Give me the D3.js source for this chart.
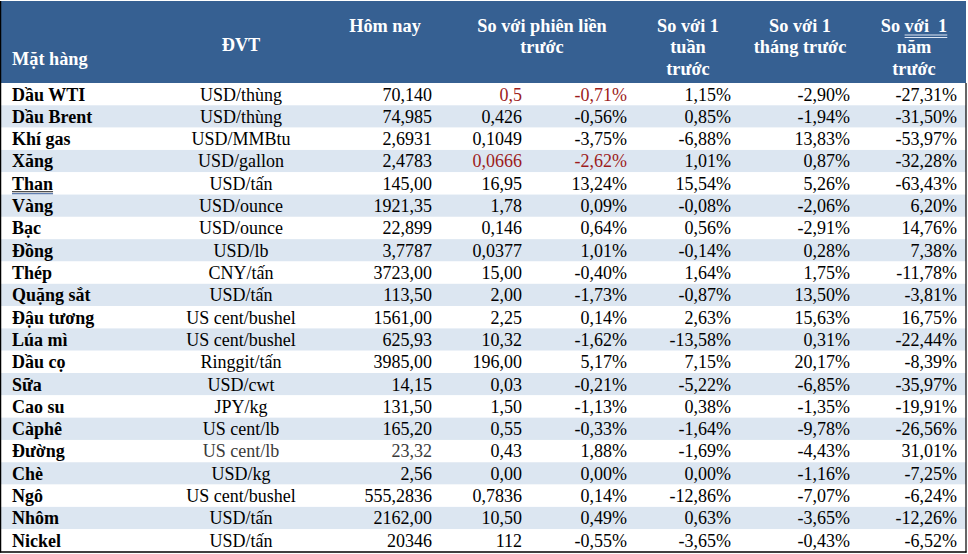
<!DOCTYPE html>
<html><head><meta charset="utf-8">
<script src="https://cdn.jsdelivr.net/npm/d3@7"></script>
<style>body{margin:0;background:#fff;} svg{display:block}</style>
</head><body><svg id="c" width="968" height="554"></svg>
<script>
// ---- data ----
const items = ["Dầu WTI","Dầu Brent","Khí gas","Xăng","Than","Vàng","Bạc","Đồng","Thép","Quặng sắt","Đậu tương","Lúa mì","Dầu cọ","Sữa","Cao su","Càphê","Đường","Chè","Ngô","Nhôm","Nickel"];
const units = ["USD/thùng","USD/thùng","USD/MMBtu","USD/gallon","USD/tấn","USD/ounce","USD/ounce","USD/lb","CNY/tấn","USD/tấn","US cent/bushel","US cent/bushel","Ringgit/tấn","USD/cwt","JPY/kg","US cent/lb","US cent/lb","USD/kg","US cent/bushel","USD/tấn","USD/tấn"];
const today = ["70,140","74,985","2,6931","2,4783","145,00","1921,35","22,899","3,7787","3723,00","113,50","1561,00","625,93","3985,00","14,15","131,50","165,20","23,32","2,56","555,2836","2162,00","20346"];
const changeAbs = ["0,5","0,426","0,1049","0,0666","16,95","1,78","0,146","0,0377","15,00","2,00","2,25","10,32","196,00","0,03","1,50","0,55","0,43","0,00","0,7836","10,50","112"];
const changePct = ["-0,71%","-0,56%","-3,75%","-2,62%","13,24%","0,09%","0,64%","1,01%","-0,40%","-1,73%","0,14%","-1,62%","5,17%","-0,21%","-1,13%","-0,33%","1,88%","0,00%","0,14%","0,49%","-0,55%"];
const weekPct = ["1,15%","0,85%","-6,88%","1,01%","15,54%","-0,08%","0,56%","-0,14%","1,64%","-0,87%","2,63%","-13,58%","7,15%","-5,22%","0,38%","-1,64%","-1,69%","0,00%","-12,86%","0,63%","-3,65%"];
const monthPct = ["-2,90%","-1,94%","13,83%","0,87%","5,26%","-2,06%","-2,91%","0,28%","1,75%","13,50%","15,63%","0,31%","20,17%","-6,85%","-1,35%","-9,78%","-4,43%","-1,16%","-7,07%","-3,65%","-0,43%"];
const yearPct = ["-27,31%","-31,50%","-53,97%","-32,28%","-63,43%","6,20%","14,76%","7,38%","-11,78%","-3,81%","16,75%","-22,44%","-8,39%","-35,97%","-19,91%","-26,56%","31,01%","-7,25%","-6,24%","-12,26%","-6,52%"];
const headers = [["Mặt hàng"],["ĐVT"],["Hôm nay"],["So với phiên liền","trước"],["So với 1","tuần","trước"],["So với 1","tháng trước"],["So với 1","năm","trước"]];
const redItems = ["Dầu WTI","Xăng"];

// ---- layout ----
const tableL = 0.5, tableR = 966, headTop = 1, headBottom = 83, tableBottom = 551.5;
const svg = d3.select("#c");
const serif = "'Liberation Serif','Times New Roman',serif";

const y = d3.scaleBand().domain(d3.range(items.length)).range([headBottom, tableBottom]).padding(0);

const cols = [
  {vals: items, x: 12, anchor: "start", bold: true},
  {vals: units, x: 241, anchor: "middle"},
  {vals: today, x: 432, anchor: "end"},
  {vals: changeAbs, x: 522, anchor: "end", red: true},
  {vals: changePct, x: 627, anchor: "end", red: true},
  {vals: weekPct, x: 731, anchor: "end"},
  {vals: monthPct, x: 850, anchor: "end"},
  {vals: yearPct, x: 957, anchor: "end"}
];

// header
svg.append("rect").attr("x", tableL).attr("y", headTop).attr("width", tableR - tableL).attr("height", headBottom - headTop).attr("fill", "#366092");

// row stripes
svg.selectAll("rect.row").data(items).join("rect").attr("class","row")
  .attr("x", tableL).attr("y", (d,i) => y(i)).attr("width", tableR - tableL).attr("height", y.bandwidth())
  .attr("fill", (d,i) => i % 2 === 1 ? "#dce6f1" : "#ffffff");

// header text
const headPos = [
  {x: 12, anchor: "start", base: [65]},
  {x: 241, anchor: "middle", base: [51]},
  {x: 385, anchor: "middle", base: [32]},
  {x: 542, anchor: "middle", base: [32, 53]},
  {x: 688, anchor: "middle", base: [32, 53, 75]},
  {x: 800, anchor: "middle", base: [32, 53]},
  {x: 914, anchor: "middle", base: [32, 53, 75]}
];
headers.forEach((lines, ci) => {
  lines.forEach((ln, li) => {
    const t = svg.append("text").attr("x", headPos[ci].x).attr("y", headPos[ci].base[li])
      .attr("text-anchor", headPos[ci].anchor).attr("fill", "#ffffff")
      .attr("font-family", serif).attr("font-weight", "bold").attr("font-size", 18.3)
      .style("white-space", "pre").text(ci === 6 && li === 0 ? "So với  1" : ln);
    if (ci === 6 && li === 0) {
      const node = t.node();
      const start = node.getStartPositionOfChar(3).x;
      const end = node.getEndPositionOfChar(node.getNumberOfChars() - 1).x;
      [35, 37.5].forEach(yy => svg.append("line").attr("x1", start).attr("x2", end).attr("y1", yy).attr("y2", yy)
        .attr("stroke", "#dde6f4").attr("stroke-width", 1));
    }
  });
});

// body text
const groups = [];
cols.forEach((col, ci) => {
  const g = svg.append("g");
  groups.push(g);
  g.selectAll("text").data(col.vals).join("text")
    .attr("x", col.x).attr("y", (d,i) => y(i) + 17.5)
    .attr("text-anchor", col.anchor)
    .attr("font-family", serif).attr("font-size", 18)
    .attr("font-weight", col.bold ? "bold" : "normal")
    .attr("fill", (d,i) => col.red && redItems.includes(items[i]) ? "#9c1c1c" : (items[i] === "Đường" && (ci === 1 || ci === 2) ? "#3a3a3a" : "#000"))
    .text(d => d);
});

// double underline for "Than"
{
  const i = items.indexOf("Than");
  const node = groups[0].selectAll("text").nodes()[i];
  const w = node.getComputedTextLength();
  [[y(i)+19.5, "#1a1a1a"], [y(i)+21.5, "#2f5597"]].forEach(([yy, c]) =>
    svg.append("line").attr("x1", 12).attr("x2", 12 + w).attr("y1", yy).attr("y2", yy).attr("stroke", c).attr("stroke-width", 1));
}

// borders
svg.append("line").attr("x1", 0.5).attr("x2", 0.5).attr("y1", headTop).attr("y2", tableBottom + 1).attr("stroke", "#000").attr("stroke-width", 1.5);
svg.append("line").attr("x1", tableR).attr("x2", tableR).attr("y1", headBottom).attr("y2", tableBottom + 1).attr("stroke", "#000").attr("stroke-width", 1.2);
svg.append("line").attr("x1", 0).attr("x2", tableR + 0.6).attr("y1", tableBottom + 0.5).attr("y2", tableBottom + 0.5).attr("stroke", "#000").attr("stroke-width", 1.5);
</script></body></html>
